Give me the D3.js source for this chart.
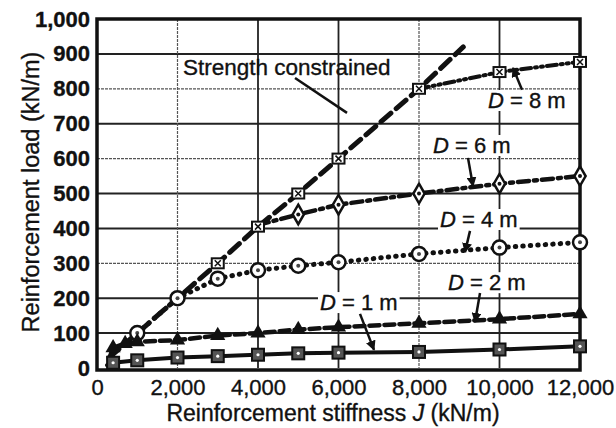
<!DOCTYPE html>
<html>
<head>
<meta charset="utf-8">
<script src="https://cdn.jsdelivr.net/npm/d3@7"></script>
<style>
  body { margin: 0; background: #fff; }
  svg { display: block; font-family: "Liberation Sans", Arial, sans-serif; }
  text { stroke: #111; stroke-width: 0.35px; }
</style>
</head>
<body>
<svg id="chart" width="616" height="428"></svg>
<script>
// Tick values
const xTicks = [0, 2000, 4000, 6000, 8000, 10000, 12000];
const yTicks = [0, 100, 200, 300, 400, 500, 600, 700, 800, 900, 1000];
const dottedY = [300, 600, 800];
const dottedX = [2000, 8000];

// Series (J in kN/m, load in kN/m)
const strengthJ = [300, 1000, 2000, 3000, 4000, 5000, 6000, 8000, 9100];
const strengthLoad = [30, 100, 200, 300, 405, 500, 600, 800, 920];
const d1J = [250, 400, 1000, 2000, 3000, 4000, 5000, 6000, 8000, 10000, 12000];
const d1Load = [8, 15, 22, 30, 34, 38, 42, 44, 46, 53, 62];
const d2J = [300, 400, 700, 1000, 2000, 3000, 4000, 5000, 6000, 8000, 10000, 12000];
const d2Load = [25, 58, 70, 75, 80, 93, 100, 110, 117, 128, 140, 155];
const d4J = [1000, 2000, 3000, 4000, 5000, 6000, 8000, 10000, 12000];
const d4Load = [100, 200, 256, 280, 293, 303, 327, 345, 360];
const d6J = [4000, 5000, 6000, 8000, 10000, 12000];
const d6Load = [410, 440, 468, 500, 528, 550];
const d8J = [8000, 10000, 12000];
const d8Load = [800, 848, 877];

// Labels: text anchor and arrow (in data units)
const labelNames = ["8", "6", "4", "2", "1"];
const labelPos = [[9714, 745], [8348, 616], [8522, 404], [8720, 223], [5540, 166]];
const arrowFrom = [[10559, 797], [9217, 602], [9267, 393], [9516, 215], [6534, 155]];
const arrowTo = [[10335, 860], [9342, 521], [9143, 332], [9391, 132], [6882, 52]];

const svg = d3.select("#chart");
const margin = {top: 19, right: 36, bottom: 60, left: 97};
const width = 616 - margin.left - margin.right;
const height = 428 - margin.top - margin.bottom;

const x = d3.scaleLinear().domain([0, 12000]).range([0, width]);
const y = d3.scaleLinear().domain([0, 1000]).range([height, 0]);

const g = svg.append("g")
    .attr("transform", "translate(" + margin.left + "," + margin.top + ")");

svg.append("defs").append("marker")
    .attr("id", "arrow")
    .attr("viewBox", "0 0 10 10")
    .attr("refX", 9).attr("refY", 5)
    .attr("markerWidth", 4).attr("markerHeight", 4)
    .attr("orient", "auto")
  .append("path")
    .attr("d", "M0,0L10,5L0,10z")
    .attr("fill", "#111");

// Grid lines
g.selectAll(".hgrid").data(yTicks.slice(1, -1)).enter().append("line")
    .attr("x1", 0).attr("x2", width)
    .attr("y1", d => y(d)).attr("y2", d => y(d))
    .attr("stroke", d => dottedY.includes(d) ? "#555" : "#222")
    .attr("stroke-width", d => dottedY.includes(d) ? 1.2 : 2)
    .attr("stroke-dasharray", d => dottedY.includes(d) ? "3,1" : null);

g.selectAll(".vgrid").data(xTicks.slice(1, -1)).enter().append("line")
    .attr("y1", 0).attr("y2", height)
    .attr("x1", d => x(d)).attr("x2", d => x(d))
    .attr("stroke", d => dottedX.includes(d) ? "#555" : "#222")
    .attr("stroke-width", d => dottedX.includes(d) ? 1.2 : 1.8)
    .attr("stroke-dasharray", d => dottedX.includes(d) ? "3,1" : null);

// Frame
g.append("rect")
    .attr("width", width).attr("height", height + 2)
    .attr("fill", "none").attr("stroke", "#111").attr("stroke-width", 3.5);

// Axes
const xAxis = g.append("g")
    .attr("transform", "translate(0," + height + ")")
    .call(d3.axisBottom(x).tickValues(xTicks).tickFormat(d3.format(",")).tickSize(0).tickPadding(11));
xAxis.select(".domain").remove();
xAxis.selectAll("text").attr("font-size", 22).attr("fill", "#111")
    .attr("font-family", "Liberation Sans, Arial, sans-serif");

const yAxis = g.append("g")
    .call(d3.axisLeft(y).tickValues(yTicks).tickFormat(d3.format(",")).tickSize(0).tickPadding(7));
yAxis.select(".domain").remove();
yAxis.selectAll("text").attr("font-size", 22).attr("fill", "#111").attr("font-weight", "bold")
    .attr("font-family", "Liberation Sans, Arial, sans-serif");

svg.append("text")
    .attr("x", 333).attr("y", 421)
    .attr("text-anchor", "middle").attr("font-size", 23).attr("fill", "#111")
    .text("Reinforcement stiffness ")
  .append("tspan").attr("font-style", "italic").text("J")
  .select(function() { return this.parentNode; })
  .append("tspan").text(" (kN/m)");

svg.append("text")
    .attr("transform", "translate(39," + 192 + ") rotate(-90)")
    .attr("text-anchor", "middle").attr("font-size", 23.5).attr("fill", "#111")
    .text("Reinforcement load (kN/m)");

// Lines
const line = d3.line().x(d => x(d[0])).y(d => y(d[1]));
const zip = (a, b) => a.map((v, i) => [v, b[i]]);

const series = [
  {pts: zip(strengthJ, strengthLoad), dash: "13,7", w: 5, mk: "sqx", from: 3},
  {pts: zip(d8J, d8Load), dash: "10,4,2,4,2,4", w: 4, mk: "sqx", from: 1},
  {pts: zip(d6J, d6Load), dash: "11,5,3,5", w: 4.5, mk: "diamond", from: 1},
  {pts: zip(d4J, d4Load), dash: "0.5,7", w: 5, mk: "circle", from: 0},
  {pts: zip(d2J, d2Load), dash: "10,5", w: 4.5, mk: "triangle", from: 1},
  {pts: zip(d1J, d1Load), dash: null, w: 4, mk: "square", from: 1}
];

series.forEach(s => {
  g.append("path")
      .attr("d", line(s.pts))
      .attr("fill", "none")
      .attr("stroke", "#111")
      .attr("stroke-width", s.w)
      .attr("stroke-linecap", "round")
      .attr("stroke-dasharray", s.dash);
});

// Markers
series.forEach(s => {
  const pts = s.pts.slice(s.from, s.mk === "sqx" && s.from === 3 ? 8 : undefined);
  const m = g.selectAll(null).data(pts).enter().append("g")
      .attr("transform", d => "translate(" + x(d[0]) + "," + y(d[1]) + ")");
  if (s.mk === "sqx") {
    m.append("rect").attr("x", -6).attr("y", -5).attr("width", 12).attr("height", 10)
        .attr("fill", "#fff").attr("stroke", "#111").attr("stroke-width", 2);
    m.append("path").attr("d", "M-3,-3L3,3M3,-3L-3,3").attr("stroke", "#111").attr("stroke-width", 1.5);
  } else if (s.mk === "diamond") {
    m.append("path").attr("d", d3.symbol(d3.symbolDiamond, 110)())
        .attr("fill", "#fff").attr("stroke", "#111").attr("stroke-width", 2.5);
    m.append("circle").attr("r", 2).attr("fill", "#111");
  } else if (s.mk === "circle") {
    m.append("circle").attr("r", 7)
        .attr("fill", "#fff").attr("stroke", "#111").attr("stroke-width", 2.5);
    m.append("circle").attr("r", 2).attr("fill", "#444");
  } else if (s.mk === "triangle") {
    m.append("path").attr("d", d3.symbol(d3.symbolTriangle, 100)())
        .attr("fill", "#111");
  } else {
    m.append("rect").attr("x", -6).attr("y", -6).attr("width", 12).attr("height", 12)
        .attr("fill", "#555").attr("stroke", "#111").attr("stroke-width", 2);
    m.append("circle").attr("r", 1.6).attr("fill", "#fff");
  }
});

// Strength constrained label
g.append("text")
    .attr("x", x(2137)).attr("y", y(840))
    .attr("font-size", 22.5).attr("fill", "#111")
    .text("Strength constrained");
g.append("line")
    .attr("x1", x(4920)).attr("y1", y(831))
    .attr("x2", x(6211)).attr("y2", y(731))
    .attr("stroke", "#111").attr("stroke-width", 2.5);

// D labels with white boxes and arrows
labelNames.forEach((n, i) => {
  const t = g.append("text")
      .attr("x", x(labelPos[i][0])).attr("y", y(labelPos[i][1]))
      .attr("font-size", 22).attr("fill", "#111");
  t.append("tspan").attr("font-style", "italic").text("D");
  t.append("tspan").text(" = " + n + " m");
  const bb = t.node().getBBox();
  g.insert("rect", function() { return t.node(); })
      .attr("x", bb.x - 2).attr("y", bb.y + 2)
      .attr("width", bb.width + 4).attr("height", bb.height - 4)
      .attr("fill", "#fff");
  g.append("line")
      .attr("x1", x(arrowFrom[i][0])).attr("y1", y(arrowFrom[i][1]))
      .attr("x2", x(arrowTo[i][0])).attr("y2", y(arrowTo[i][1]))
      .attr("stroke", "#111").attr("stroke-width", 2.5)
      .attr("marker-end", "url(#arrow)");
});
</script>
</body>
</html>
